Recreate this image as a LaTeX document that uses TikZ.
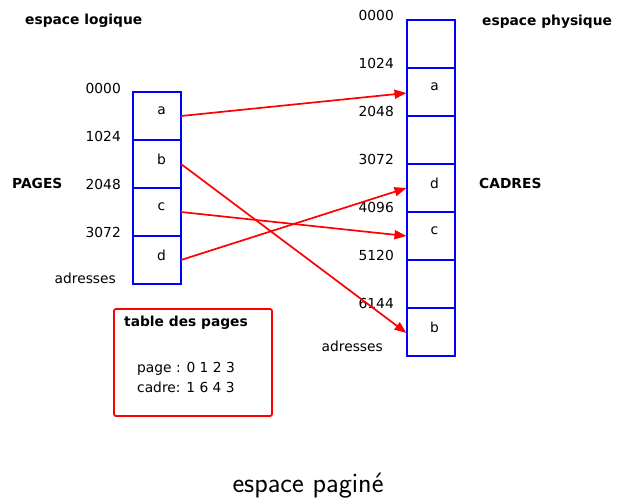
\documentclass[tikz,border=0pt]{standalone}
\usepackage{fontspec}
\setmainfont{DejaVu Sans}
\newfontfamily\capfont{Latin Modern Sans}
\usetikzlibrary{arrows.meta}
\begin{document}
\begin{tikzpicture}[x=1pt,y=-1pt,
  cell/.style={draw=blue,line width=2pt,minimum width=48pt,minimum height=48pt,inner sep=0pt,outer sep=0pt},
  lbl/.style={font=\fontsize{13.8}{16}\selectfont,inner sep=0pt},
  blbl/.style={font=\fontsize{13.8}{16}\selectfont\bfseries,inner sep=0pt},
  map/.style={draw=red,line width=1.7pt,-{Triangle[length=12pt,width=9pt]}},
  tbl/.style={draw=red,line width=1.8pt,rounded corners=2pt}]
\useasboundingbox (0,0) rectangle (625,498);
% logical space cells
\foreach \n/\t [count=\i from 0] in {la/a,lb/b,lc/c,ld/d}
  \node[cell,label={[lbl,xshift=4.5pt,yshift=5pt]center:\t}] (\n) at (157,116+48*\i) {};
% physical space cells
\foreach \n/\t [count=\i from 0] in {p0/,pa/a,p2/,pd/d,pc/c,p5/,pb/b}
  \node[cell,label={[lbl,xshift=4pt,yshift=5pt]center:\t}] (\n) at (430.5,44+48*\i) {};
% addresses left
\foreach \a [count=\i from 0] in {0000,1024,2048,3072}
  \node[lbl,anchor=east] (al\i) at (121,88+48*\i) {\a};
\node[lbl,anchor=east] (adl) at (116,278) {adresses};
% addresses right
\foreach \a [count=\i from 0] in {0000,1024,2048,3072,4096,5120,6144}
  \node[lbl,anchor=east] (ar\i) at (394,15+48*\i) {\a};
\node[lbl,anchor=east] (adr) at (383,346) {adresses};
% titles
\node[blbl,anchor=west] (tl) at (25,21) {espace logique};
\node[blbl,anchor=west] (tp) at (482,22) {espace physique};
\node[blbl,anchor=west] (pages) at (12,183) {PAGES};
\node[blbl,anchor=west] (cadres) at (479,183) {CADRES};
% mapping arrows
\draw[map] (la.east) -- ([yshift=-1pt]pa.west);
\draw[map] (lb.east) -- ([yshift=-1pt]pb.west);
\draw[map] (lc.east) -- (pc.west);
\draw[map] (ld.east) -- (pd.west);
% page table
\node[tbl,minimum width=158pt,minimum height=107pt,inner sep=0pt] (table) at (193,362.5) {};
\node[blbl,anchor=west] (tt) at (124,323) {table des pages};
\node[lbl,anchor=west] (r1) at (137,369) {page : 0 1 2 3};
\node[lbl,anchor=west] (r2) at (137,387) {cadre: 1 6 4 3};
% caption
\node[font=\capfont\fontsize{28}{31}\selectfont,inner sep=0pt] (cap) at (308,486) {espace paginé};
\end{tikzpicture}
\end{document}
